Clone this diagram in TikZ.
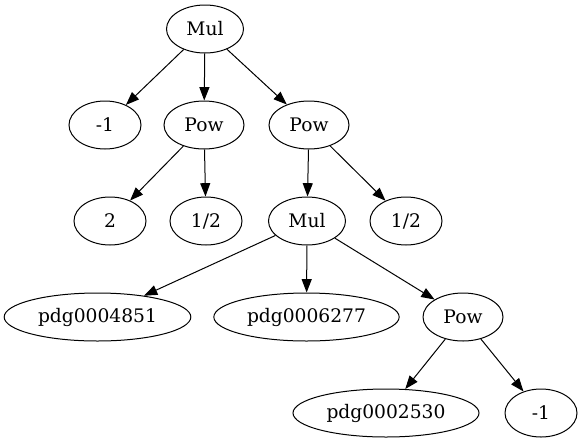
\documentclass[tikz,border=0pt]{standalone}
\usepackage{fontspec}
\setmainfont{DejaVu Serif}
\usepackage{tikz}
\usetikzlibrary{arrows.meta}
\usetikzlibrary{shapes.geometric}

\begin{document}
\begin{tikzpicture}[x=0.75pt,y=-0.75pt,line width=0.75pt,>={Triangle[length=10pt,width=7.5pt]}]%
        %\draw[step=10,color=gray,very thin] (0,0) grid (581,443);%%
        \useasboundingbox (0,0) rectangle (581,443);
        \begin{scope}[shape=ellipse,inner sep=0pt,minimum height=36pt]
        \tikzstyle{every node}=[draw,font=\fontsize{14}{16}\selectfont,minimum width=54pt] %%
        \node[minimum width=57.75pt] (mul) at (205,29)  {Mul}; %%
        \node (m1) at (105,125)  {-1}; %%
        \node[minimum width=60pt] (pow1) at (204,125)  {Pow}; %%
        \node[minimum width=60pt] (pow2) at (309,125)  {Pow}; %%
        \node (two) at (110,221)  {2}; %%
        \node (halfa) at (206,221)  {1/2}; %%
        \node[minimum width=57.75pt] (mul2) at (307,221)  {Mul}; %%
        \node (halfb) at (406,221)  {1/2}; %%
        \node[minimum width=140pt] (pdga) at (97.5,317)  {pdg0004851}; %%
        \node[minimum width=139pt] (pdgb) at (306.5,317)  {pdg0006277}; %%
        \node[minimum width=60pt] (pow3) at (463,317)  {Pow}; %%
        \node[minimum width=139.5pt] (pdgc) at (386,413)  {pdg0002530}; %%
        \node (m1b) at (541,413)  {-1}; %%
        \end{scope}
        \draw[->] (mul)--(m1);  %%
        \draw[->] (mul)--(pow1);  %%
        \draw[->] (mul)--(pow2);  %%
        \draw[->] (pow1)--(two); %%
        \draw[->] (pow1)--(halfa); %%
        \draw[->] (pow2)--(mul2); %%
        \draw[->] (pow2)--(halfb); %%
        \draw[->] (mul2)--(pdga); %%
        \draw[->] (mul2)--(pdgb); %%
        \draw[->] (mul2)--(pow3); %%
        \draw[->] (pow3)--(pdgc); %%
        \draw[->] (pow3)--(m1b); %%
\end{tikzpicture}
\end{document}
